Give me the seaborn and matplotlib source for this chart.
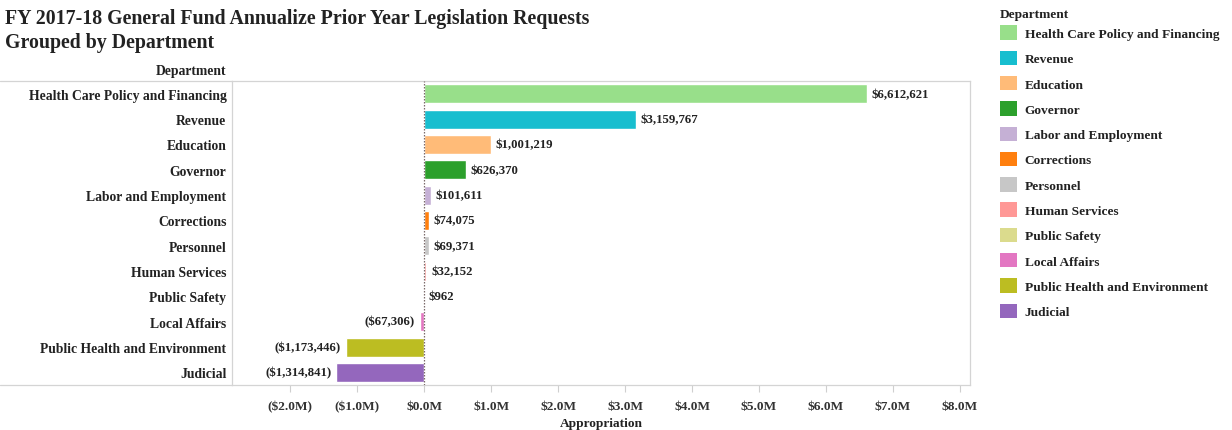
import matplotlib
matplotlib.use("Agg")
import matplotlib.pyplot as plt
from matplotlib.patches import Patch
from matplotlib.lines import Line2D
from matplotlib.ticker import FuncFormatter, MultipleLocator
import seaborn as sns
import pandas as pd

departments = [
    "Health Care Policy and Financing", "Revenue", "Education", "Governor",
    "Labor and Employment", "Corrections", "Personnel", "Human Services",
    "Public Safety", "Local Affairs", "Public Health and Environment", "Judicial",
]
appropriation = [
    6612621, 3159767, 1001219, 626370, 101611, 74075, 69371, 32152,
    962, -67306, -1173446, -1314841,
]
colors = [
    "#98df8a", "#17becf", "#ffbb78", "#2ca02c", "#c5b0d5", "#ff7f0e",
    "#c7c7c7", "#ff9896", "#dbdb8d", "#e377c2", "#bcbd22", "#9467bd",
]

df = pd.DataFrame({"Department": departments, "Appropriation": appropriation})

sns.set_theme(style="white")
plt.rcParams["font.family"] = ["Liberation Serif", "DejaVu Serif"]
plt.rcParams["font.weight"] = "bold"

TEXT = "#222222"
RULE = "#d4d4d4"

W, H = 1232, 431
fig = plt.figure(figsize=(W / 100, H / 100), dpi=100)
ax = fig.add_axes([232 / W, 1 - 386 / H, (970 - 232) / W, (386 - 82) / H])

sns.barplot(data=df, y="Department", x="Appropriation", hue="Department",
            palette=colors, orient="h", width=0.75, saturation=1,
            legend=False, ax=ax)

ax.set_xlim(-2.87e6, 8.15e6)
ax.set_ylim(len(departments) - 0.5, -0.5)
ax.xaxis.set_major_locator(MultipleLocator(1e6))


def money_m(v, _pos):
    m = v / 1e6
    if round(m, 1) < 0:
        return f"(${abs(m):.1f}M)"
    return f"${abs(m):.1f}M"


ax.xaxis.set_major_formatter(FuncFormatter(money_m))
ax.tick_params(axis="x", bottom=True, length=5, width=0.8, color="#cfcfcf",
               labelsize=9.6, labelcolor="#333333", pad=6)
ax.tick_params(axis="y", left=False, length=0, labelsize=9.8, labelcolor=TEXT,
               pad=4)
for lbl in ax.get_xticklabels() + ax.get_yticklabels():
    lbl.set_fontweight("bold")

ax.set_ylabel("")
ax.set_xlabel("Appropriation", fontsize=9.6, fontweight="bold", color=TEXT,
              labelpad=3)

for side in ["top", "right", "bottom", "left"]:
    ax.spines[side].set_color(RULE)
    ax.spines[side].set_linewidth(0.9)

# zero reference line
ax.axvline(0, color="#7a6a6a", linestyle=(0, (1.2, 1.2)), linewidth=0.9, zorder=3)

# value labels at bar ends
for i, v in enumerate(appropriation):
    if v >= 0:
        ax.text(v + 0.07e6, i, f"${v:,.0f}", va="center", ha="left",
                fontsize=9.2, fontweight="bold", color=TEXT)
    else:
        ax.text(v - 0.07e6, i, f"(${abs(v):,.0f})", va="center", ha="right",
                fontsize=9.2, fontweight="bold", color=TEXT)

# header rules spanning the label pane
for ypix in (82, 386):
    fig.add_artist(Line2D([0, 232 / W], [1 - ypix / H, 1 - ypix / H],
                          color=RULE, linewidth=0.9))

fig.text(226 / W, 1 - 72 / H, "Department", ha="right", va="center",
         fontsize=9.8, fontweight="bold", color=TEXT)

fig.text(5 / W, 1 - 9 / H,
         "FY 2017-18 General Fund Annualize Prior Year Legislation Requests\nGrouped by Department",
         ha="left", va="top", fontsize=14.3, fontweight="bold", color=TEXT,
         linespacing=1.28)

handles = [Patch(facecolor=c, edgecolor="none") for c in colors]
leg = fig.legend(handles, departments, title="Department", loc="upper left",
                 bbox_to_anchor=(997 / W, 1 - 6 / H), frameon=False,
                 fontsize=9.6, title_fontsize=9.6, handlelength=1.28,
                 handleheight=1.28, labelspacing=0.8, handletextpad=0.6,
                 borderaxespad=0, borderpad=0.2)
leg._legend_box.align = "left"
leg._legend_box.sep = 4
for t in leg.get_texts():
    t.set_fontweight("bold")
    t.set_color(TEXT)
leg.get_title().set_fontweight("bold")
leg.get_title().set_color(TEXT)

fig.savefig("out.png", dpi=100)
